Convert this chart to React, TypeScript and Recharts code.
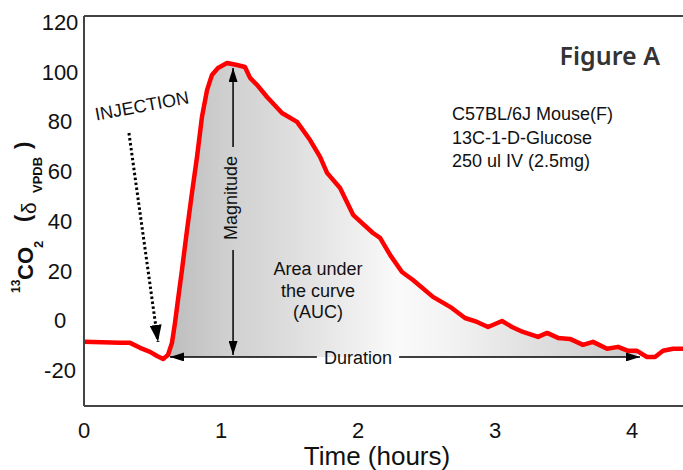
import React from 'react';
import { ComposedChart, Area, Line, XAxis, YAxis, ReferenceLine } from 'recharts';

// hours after start
const TIME = [
  0, 0.263, 0.336, 0.409, 0.482, 0.533, 0.577, 0.613, 0.642, 0.664, 0.686, 0.715, 0.752, 0.788, 0.825,
  0.861, 0.898, 0.934, 0.978, 1.044, 1.117, 1.175, 1.212, 1.263, 1.336, 1.445, 1.555, 1.65, 1.723,
  1.774, 1.869, 1.964, 2.109, 2.161, 2.234, 2.321, 2.401, 2.547, 2.672, 2.781, 2.869, 2.949, 3.051,
  3.124, 3.204, 3.314, 3.38, 3.46, 3.547, 3.642, 3.715, 3.818, 3.898, 3.971, 4.036, 4.109, 4.168,
  4.226, 4.299, 4.372,
];
// 13CO2 delta VPDB
const CO2 = [
  -8.7, -9.1, -9.1, -11.1, -12.7, -14.4, -15.6, -14.0, -9.1, -1.1, 8.2, 20.2, 36.3, 51.2, 65.7,
  81.8, 92.6, 98.7, 101.5, 103.5, 102.7, 101.9, 97.5, 94.7, 89.8, 83.4, 79.8, 72.5, 65.7,
  59.3, 53.2, 42.4, 35.1, 33.1, 26.3, 19.4, 16.2, 9.4, 5.4, 0.9, -0.7, -2.7, -0.3,
  -2.7, -4.7, -6.7, -5.1, -7.1, -7.5, -9.9, -8.7, -11.5, -10.7, -12.3, -12.3, -14.8, -14.8,
  -12.3, -11.5, -11.5,
];

const X_TICKS = [0, 1, 2, 3, 4];
const Y_TICKS = [-20, 0, 20, 40, 60, 80, 100, 120];
const X_DOMAIN = [0, 4.372];
const Y_DOMAIN = [-34.5, 122.4];

// annotation geometry (data units)
const AUC_RANGE = [0.613, 4.036];
const AUC_BASE = -14.75;
const DURATION = [0.628, 4.058];
const DURATION_GAP = [1.7, 2.3];
const MAG_T = 1.088;
const MAGNITUDE = [-13.95, 101.5];
const MAG_GAP = [28.3, 69.7];
const INJECTION_FROM = { x: 0.328, y: 75.3 };
const INJECTION_TO = { x: 0.54, y: -8.7 };

const data = TIME.map((t, i) => ({
  t,
  co2: CO2[i],
  auc: t >= AUC_RANGE[0] && t <= AUC_RANGE[1] ? CO2[i] : null,
}));

const FONT = '"Liberation Sans", Arial, sans-serif';
const INK = '#111';

const arrow = (marker: string, width = 1.5, dash?: string) => (p: any) => (
  <line
    x1={p.x1}
    y1={p.y1}
    x2={p.x2}
    y2={p.y2}
    stroke="#000"
    strokeWidth={width}
    strokeDasharray={dash}
    markerEnd={`url(#${marker})`}
  />
);

const YTick = (p: any) => (
  <text x={p.x - 24} y={p.y + 8} textAnchor="middle" fontSize={22} fontFamily={FONT} fill={INK}>
    {p.payload.value}
  </text>
);

const XTick = (p: any) => (
  <text x={p.x} y={p.y + 32} textAnchor="middle" fontSize={22} fontFamily={FONT} fill={INK}>
    {p.payload.value}
  </text>
);

export default function App() {
  return (
    <div style={{ position: 'absolute', left: 0, top: 0, width: 683, height: 470, background: '#fff' }}>
      <ComposedChart width={683} height={470} data={data} margin={{ top: 16, right: 0, bottom: 0, left: 0 }}>
        <defs>
          <linearGradient id="aucFill" x1="0" y1="0" x2="1" y2="0">
            <stop offset="0" stopColor="#bdbdbd" />
            <stop offset="0.13" stopColor="#d0d0d0" />
            <stop offset="0.24" stopColor="#dbdbdb" />
            <stop offset="0.35" stopColor="#e8e8e8" />
            <stop offset="0.49" stopColor="#fafafa" />
            <stop offset="0.6" stopColor="#f3f3f3" />
            <stop offset="0.75" stopColor="#e3e3e3" />
            <stop offset="0.92" stopColor="#d2d2d2" />
            <stop offset="1" stopColor="#c8c8c8" />
          </linearGradient>
          <marker id="head" markerUnits="userSpaceOnUse" markerWidth="14" markerHeight="9" refX="14" refY="4.5" orient="auto">
            <path d="M0,0 L14,4.5 L0,9 z" fill="#000" />
          </marker>
          <marker id="bighead" markerUnits="userSpaceOnUse" markerWidth="17" markerHeight="12" refX="17" refY="6" orient="auto">
            <path d="M0,0 L17,6 L0,12 z" fill="#000" />
          </marker>
        </defs>
        <XAxis
          dataKey="t"
          type="number"
          domain={X_DOMAIN}
          ticks={X_TICKS}
          allowDataOverflow
          height={64}
          tickLine={false}
          tickSize={0}
          tickMargin={0}
          tick={<XTick />}
          axisLine={{ stroke: '#444', strokeWidth: 2 }}
        />
        <YAxis
          type="number"
          domain={Y_DOMAIN}
          ticks={Y_TICKS}
          allowDataOverflow
          width={84}
          tickLine={false}
          tickSize={0}
          tickMargin={0}
          tick={<YTick />}
          axisLine={{ stroke: '#444', strokeWidth: 2 }}
        />
        <ReferenceLine y={Y_DOMAIN[1]} stroke="#444" strokeWidth={2} />
        <Area
          dataKey="auc"
          baseValue={AUC_BASE}
          stroke="none"
          fill="url(#aucFill)"
          fillOpacity={1}
          isAnimationActive={false}
          dot={false}
          activeDot={false}
        />
        <ReferenceLine
          segment={[{ x: DURATION_GAP[0], y: AUC_BASE }, { x: DURATION[0], y: AUC_BASE }]}
          shape={arrow('head')}
        />
        <ReferenceLine
          segment={[{ x: DURATION_GAP[1], y: AUC_BASE }, { x: DURATION[1], y: AUC_BASE }]}
          shape={arrow('head')}
        />
        <ReferenceLine
          segment={[{ x: MAG_T, y: MAG_GAP[1] }, { x: MAG_T, y: MAGNITUDE[1] }]}
          shape={arrow('head')}
        />
        <ReferenceLine
          segment={[{ x: MAG_T, y: MAG_GAP[0] }, { x: MAG_T, y: MAGNITUDE[0] }]}
          shape={arrow('head')}
        />
        <ReferenceLine
          segment={[INJECTION_FROM, INJECTION_TO]}
          shape={arrow('bighead', 3, '2.5 2.5')}
        />
        <Line
          dataKey="co2"
          type="linear"
          stroke="#ff0000"
          strokeWidth={4.5}
          strokeLinejoin="round"
          dot={false}
          activeDot={false}
          isAnimationActive={false}
        />
      </ComposedChart>
      <svg
        width={683}
        height={470}
        style={{ position: 'absolute', left: 0, top: 0, pointerEvents: 'none' }}
        fontFamily={FONT}
        fill={INK}
      >
        <text x={142} y={112} fontSize={18} textAnchor="middle" transform="rotate(-10.5 142 106)">
          INJECTION
        </text>
        <text x={0} y={0} fontSize={18} textAnchor="middle" transform="translate(237 198) rotate(-90)">
          Magnitude
        </text>
        <text fontSize={18} textAnchor="middle">
          <tspan x={318} y={275}>Area under</tspan>
          <tspan x={318} y={297}>the curve</tspan>
          <tspan x={318} y={318}>(AUC)</tspan>
        </text>
        <text x={358} y={363.5} fontSize={18} textAnchor="middle">Duration</text>
        <text x={660} y={65} fontSize={25} fontWeight={600} textAnchor="end" fill="#333" fontFamily='"Noto Sans", sans-serif'>
          Figure A
        </text>
        <text fontSize={18}>
          <tspan x={452} y={120}>C57BL/6J Mouse(F)</tspan>
          <tspan x={452} y={144}>13C-1-D-Glucose</tspan>
          <tspan x={452} y={167}>250 ul IV (2.5mg)</tspan>
        </text>
        <text x={377} y={465} fontSize={26} textAnchor="middle">Time (hours)</text>
        <g transform="translate(33 0) rotate(-90)">
          <text fontWeight="bold">
            <tspan x={-293} y={-13} fontSize={12}>13</tspan>
            <tspan x={-280} y={0} fontSize={22}>CO</tspan>
            <tspan x={-248} y={10} fontSize={13}>2</tspan>
            <tspan x={-222} y={-3} fontSize={22}>(</tspan>
            <tspan x={-214} y={3} fontSize={21} fontWeight="normal">δ</tspan>
            <tspan x={-193} y={9} fontSize={13}>VPDB</tspan>
            <tspan x={-149} y={-3} fontSize={22}>)</tspan>
          </text>
        </g>
      </svg>
    </div>
  );
}
